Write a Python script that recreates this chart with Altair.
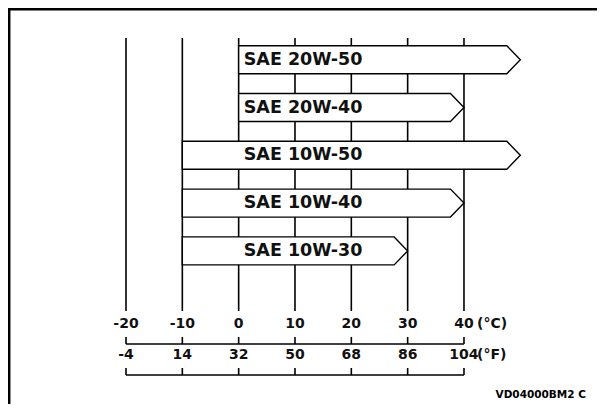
import altair as alt
import pandas as pd

# ---- data ----
grades = ["SAE 20W-50", "SAE 20W-40", "SAE 10W-50", "SAE 10W-40", "SAE 10W-30"]
low_c = [0, 0, -10, -10, -10]
high_c = [50, 40, 50, 40, 30]
ticks_c = [-20, -10, 0, 10, 20, 30, 40]
labels_c = ["-20", "-10", "0", "10", "20", "30", "40"]
labels_f = ["-4", "14", "32", "50", "68", "86", "104"]
unit_c = "(°C)"
unit_f = "(°F)"
code_text = "VD04000BM2 C"

# ---- layout ----
W, H = 589, 396
PX_PER_C = 5.633
X0_PX = 118.0  # pixel of -20 °C inside the view
X_DOM = [-20 - X0_PX / PX_PER_C, -20 + (W - X0_PX) / PX_PER_C]
ROW_PX = 47.8
ROW1_PX = 51.7
Y_DOM = [1 - ROW1_PX / ROW_PX, 1 + (H - ROW1_PX) / ROW_PX]
HALF = 0.293
HEAD = 2.4
GRID_TOP, GRID_BOT = 0.546, 6.257
C_LAB_Y = 6.53
F_TICK_TOP, F_LINE = 6.80, 6.948
F_LAB_Y = 7.18
B_TICK_TOP, B_LINE = 7.45, 7.596
CODE_Y = 8.015
CODE_X = X_DOM[0] + 578 / PX_PER_C
LABEL_X = 0.9
FONT = "DejaVu Sans"

xs = alt.Scale(domain=X_DOM, nice=False, zero=False)
ys = alt.Scale(domain=Y_DOM, nice=False, zero=False, reverse=True)

def X(f):
    return alt.X(f, type="quantitative", scale=xs, axis=None)

def Y(f):
    return alt.Y(f, type="quantitative", scale=ys, axis=None)

# frame: left and top edges only
frame_v = pd.DataFrame({"x": [X_DOM[0] + 1.2 / PX_PER_C], "y0": [Y_DOM[0]], "y1": [Y_DOM[1]]})
frame_h = pd.DataFrame({"y": [Y_DOM[0] + 1.2 / ROW_PX], "x0": [X_DOM[0]], "x1": [X_DOM[1]]})
left_border = alt.Chart(frame_v).mark_rule(color="black", strokeWidth=2.5).encode(
    x=X("x"), y=Y("y0"), y2="y1")
top_border = alt.Chart(frame_h).mark_rule(color="black", strokeWidth=2.5).encode(
    x=X("x0"), x2="x1", y=Y("y"))

grid_df = pd.DataFrame({"c": ticks_c})
grid_df["top"] = GRID_TOP
grid_df["bot"] = GRID_BOT
grid = alt.Chart(grid_df).mark_rule(color="black", strokeWidth=1.6).encode(
    x=X("c"), y=Y("top"), y2="bot")

rows = []
for i, (g, lo, hi) in enumerate(zip(grades, low_c, high_c)):
    r = i + 1
    rows.append(dict(grade=g, x=lo, y=r - HALF, y2=r + HALF))
    rows.append(dict(grade=g, x=hi - HEAD, y=r - HALF, y2=r + HALF))
    rows.append(dict(grade=g, x=hi, y=r, y2=r))
arrow_df = pd.DataFrame(rows)
arrows = alt.Chart(arrow_df).mark_area(
    fill="white", fillOpacity=1, stroke="black", strokeWidth=1.4,
    interpolate="linear", orient="vertical").encode(
    x=X("x"), y=alt.Y("y", type="quantitative", scale=ys, axis=None, stack=False),
    y2="y2", detail="grade:N")

lab_df = pd.DataFrame({"grade": grades, "row": list(range(1, len(grades) + 1))})
lab_df["lx"] = LABEL_X
labels = alt.Chart(lab_df).mark_text(
    align="left", baseline="middle", font=FONT, fontSize=17.5, fontWeight="bold",
    color="#111").encode(x=X("lx"), y=Y("row"), text="grade:N")

c_df = pd.DataFrame({"c": ticks_c, "lab": labels_c})
c_df["y"] = C_LAB_Y
c_text = alt.Chart(c_df).mark_text(
    align="center", baseline="middle", font=FONT, fontSize=14, fontWeight="bold",
    color="#111").encode(x=X("c"), y=Y("y"), text="lab:N")

cu_df = pd.DataFrame({"c": [ticks_c[-1]], "lab": [unit_c]})
cu_df["y"] = C_LAB_Y
c_unit = alt.Chart(cu_df).mark_text(
    align="left", baseline="middle", font=FONT, fontSize=14, fontWeight="bold",
    dx=13, color="#111").encode(x=X("c"), y=Y("y"), text="lab:N")

f_tick_df = pd.DataFrame({"c": ticks_c})
f_tick_df["top"] = F_TICK_TOP
f_tick_df["bot"] = F_LINE
f_ticks = alt.Chart(f_tick_df).mark_rule(color="black", strokeWidth=1.6).encode(
    x=X("c"), y=Y("top"), y2="bot")
f_line_df = pd.DataFrame({"c0": [ticks_c[0]], "c1": [ticks_c[-1]]})
f_line_df["y"] = F_LINE
f_line = alt.Chart(f_line_df).mark_rule(color="black", strokeWidth=1.6).encode(
    x=X("c0"), x2="c1", y=Y("y"))

f_df = pd.DataFrame({"c": ticks_c, "lab": labels_f})
f_df["y"] = F_LAB_Y
f_text = alt.Chart(f_df).mark_text(
    align="center", baseline="middle", font=FONT, fontSize=14, fontWeight="bold",
    color="#111").encode(x=X("c"), y=Y("y"), text="lab:N")

fu_df = pd.DataFrame({"c": [ticks_c[-1]], "lab": [unit_f]})
fu_df["y"] = F_LAB_Y
f_unit = alt.Chart(fu_df).mark_text(
    align="left", baseline="middle", font=FONT, fontSize=14, fontWeight="bold",
    dx=13, color="#111").encode(x=X("c"), y=Y("y"), text="lab:N")

b_tick_df = pd.DataFrame({"c": ticks_c})
b_tick_df["top"] = B_TICK_TOP
b_tick_df["bot"] = B_LINE
b_ticks = alt.Chart(b_tick_df).mark_rule(color="black", strokeWidth=1.6).encode(
    x=X("c"), y=Y("top"), y2="bot")
b_line_df = pd.DataFrame({"c0": [ticks_c[0]], "c1": [ticks_c[-1]]})
b_line_df["y"] = B_LINE
b_line = alt.Chart(b_line_df).mark_rule(color="black", strokeWidth=1.6).encode(
    x=X("c0"), x2="c1", y=Y("y"))

code_df = pd.DataFrame({"t": [code_text], "x": [CODE_X], "y": [CODE_Y]})
code = alt.Chart(code_df).mark_text(
    align="right", baseline="middle", font=FONT, fontSize=10.5, fontWeight="bold",
    color="black").encode(x=X("x"), y=Y("y"), text="t:N")

chart = alt.layer(
    left_border, top_border, grid, arrows, labels, c_text, c_unit,
    f_ticks, f_line, f_text, f_unit, b_ticks, b_line, code
).properties(
    width=W, height=H, padding=0, autosize=alt.AutoSizeParams(type="none"),
    background="white"
).configure_view(strokeWidth=0, strokeOpacity=0)

chart.save("out.html", embed_options={"renderer": "svg", "actions": False})
